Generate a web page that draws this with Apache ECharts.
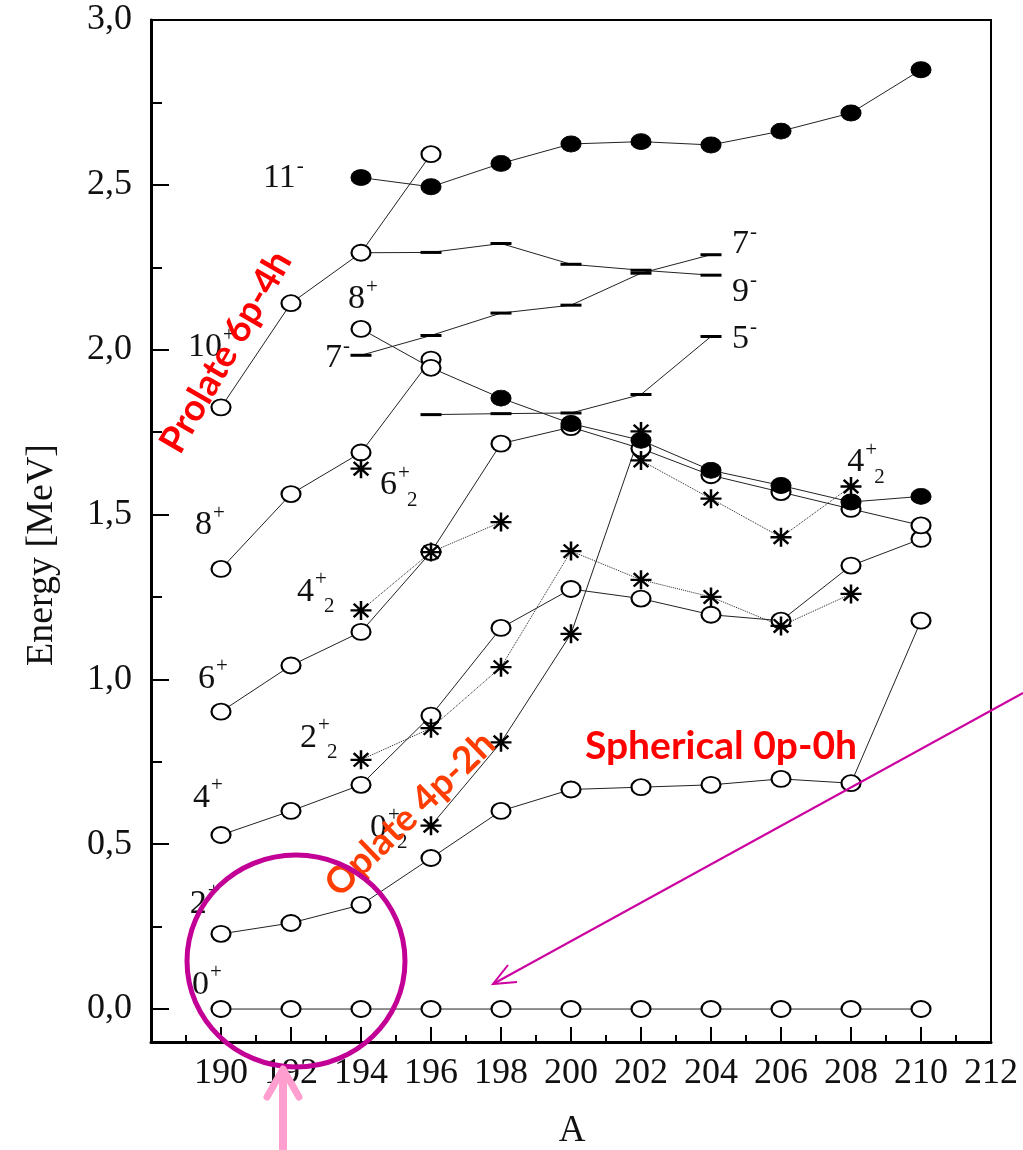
<!DOCTYPE html>
<html>
<head>
<meta charset="utf-8">
<script src="https://cdn.jsdelivr.net/npm/echarts@6/dist/echarts.min.js"></script>
<style>html,body{margin:0;padding:0;background:#fff}#c{width:1023px;height:1150px}</style>
</head>
<body>
<div id="c"></div>
<script>
// ---------- data (mass number A, energy in MeV) ----------
const A_all = [190,192,194,196,198,200,202,204,206,208,210];
const E_0p  = [0,0,0,0,0,0,0,0,0,0,0];
const E_2p  = [0.228,0.261,0.316,0.458,0.601,0.666,0.673,0.680,0.698,0.685,1.178];
const E_4p  = [0.528,0.601,0.680,0.890,1.156,1.274,1.245,1.196,1.178,1.345,1.426];
const E_6p  = [0.902,1.042,1.144,1.386,1.715,1.765,1.700,1.619,1.568,1.517,1.467];

const A_8p  = [190,192,194,196];
const E_8p  = [1.335,1.562,1.688,1.970];
const A_10p = [190,192,194,196];
const E_10p = [1.825,2.141,2.294,2.593];

const A_8b  = [194,196,198,200,202,204,206,208,210];
const E_8b  = [2.063,1.945,1.853,1.776,1.725,1.634,1.588,1.538,1.555];
const A_11m = [194,196,198,200,202,204,206,208,210];
const E_11m = [2.522,2.494,2.565,2.624,2.631,2.621,2.663,2.718,2.849];

const A_9m  = [194,196,198,200,202,204];
const E_9m  = [2.294,2.295,2.322,2.259,2.241,2.226];
const A_7m  = [194,196,198,200,202,204];
const E_7m  = [1.983,2.043,2.111,2.135,2.232,2.288];
const A_5m  = [196,198,200,202,204];
const E_5m  = [1.803,1.806,1.808,1.864,2.040];

const A_0p2 = [196,198,200,202];
const E_0p2 = [0.556,0.809,1.138,1.752];
const A_2p2 = [194,196,198,200,202,204,206,208];
const E_2p2 = [0.756,0.852,1.037,1.389,1.302,1.250,1.162,1.259];
const A_4p2 = [194,196,198];
const E_4p2 = [1.209,1.386,1.477];
const A_4p2b = [202,204,206,208];
const E_4p2b = [1.664,1.548,1.431,1.585];
const A_6p2 = [194];
const E_6p2 = [1.639];

const xRange = [188, 212];
const yRange = [-0.1, 3.0];
const yMajor = [0, 0.5, 1.0, 1.5, 2.0, 2.5, 3.0];
const yMinor = [0.25, 0.75, 1.25, 1.75, 2.25, 2.75];

// ---------- styles ----------
const SYM = {
  open:   {symbol:'circle', symbolSize:[19,16], itemStyle:{color:'#fff', borderColor:'#000', borderWidth:2}},
  filled: {symbol:'circle', symbolSize:[20,16], itemStyle:{color:'#000', borderColor:'#000', borderWidth:1}},
  star:   {symbol:'path://M10 0 L10 20 M0 10 L20 10 M3 3 L17 17 M3 17 L17 3', symbolSize:[21,19],
           itemStyle:{color:'transparent', borderColor:'#000', borderWidth:2.4}},
  dash:   {symbol:'rect', symbolSize:[21,3], itemStyle:{color:'#000', borderWidth:0}},
  none:   {symbol:'none'}
};

function mkSeries(xs, ys, sym, lineType, noLine, overrides) {
  const s = SYM[sym];
  const data = xs.map((x,i) => {
    const d = {value:[x, ys[i]]};
    if (overrides && overrides[i]) Object.assign(d, SYM[overrides[i]]);
    return d;
  });
  return {
    type:'line', data, symbol:s.symbol, symbolSize:s.symbolSize,
    itemStyle:s.itemStyle, showSymbol:true, silent:true, animation:false,
    lineStyle: noLine ? {width:0, opacity:0} : {color:'#222', width:1, type: lineType || 'solid'},
    emphasis:{disabled:true}, z:2
  };
}

const series = [
  mkSeries(A_all, E_0p, 'open'),
  mkSeries(A_all, E_2p, 'open'),
  mkSeries(A_all, E_4p, 'open'),
  mkSeries(A_all, E_6p, 'open'),
  mkSeries(A_8p, E_8p, 'open'),
  mkSeries(A_10p, E_10p, 'open'),
  mkSeries(A_2p2, E_2p2, 'star', 'dotted'),
  mkSeries(A_0p2, E_0p2, 'star', 'solid'),
  mkSeries(A_4p2, E_4p2, 'star', 'dotted'),
  mkSeries(A_6p2, E_6p2, 'star', 'solid', true),
  mkSeries(A_4p2b, E_4p2b, 'star', 'dotted'),
  mkSeries(A_5m, E_5m, 'dash'),
  mkSeries(A_7m, E_7m, 'dash'),
  mkSeries(A_9m, E_9m, 'dash', 'solid', false, {0:'none'}),
  mkSeries(A_8b, E_8b, 'filled', 'solid', false, {0:'open', 1:'open'}),
  mkSeries(A_11m, E_11m, 'filled')
];

const serif = '"Liberation Serif", "Times New Roman", serif';

const option = {
  animation:false,
  backgroundColor:'#fff',
  grid:{left:151, right:32, top:20, bottom:108, show:true, borderColor:'#000', borderWidth:2, backgroundColor:'transparent'},
  xAxis:{
    type:'value', min:xRange[0], max:xRange[1], interval:2,
    axisLine:{show:true, onZero:false, lineStyle:{color:'#000', width:3}},
    axisTick:{show:true, inside:true, length:15, lineStyle:{color:'#000', width:2}},
    minorTick:{show:true, splitNumber:2, length:7, lineStyle:{color:'#000', width:2}},
    axisLabel:{formatter:v => v === xRange[0] ? '' : String(v), fontFamily:serif, fontSize:36, color:'#111', margin:14},
    splitLine:{show:false}, minorSplitLine:{show:false}
  },
  yAxis:[{
    type:'value', min:yRange[0], max:yRange[1],
    axisLine:{show:true, onZero:false, lineStyle:{color:'#000', width:3}},
    axisTick:{show:true, inside:true, length:18, customValues:yMajor, lineStyle:{color:'#000', width:2}},
    axisLabel:{customValues:yMajor, formatter:v => v.toFixed(1).replace('.', ','), fontFamily:serif, fontSize:36, color:'#111', margin:19},
    splitLine:{show:false}
  },{
    type:'value', min:yRange[0], max:yRange[1], position:'left',
    axisLine:{show:false},
    axisTick:{show:true, inside:true, length:11, customValues:yMinor, lineStyle:{color:'#000', width:2}},
    axisLabel:{show:false, customValues:yMinor},
    splitLine:{show:false}
  }],
  series
};

const chart = echarts.init(document.getElementById('c'), null, {renderer:'canvas', width:1023, height:1150});
chart.setOption(option);

// ---------- annotations ----------
const stateLabels = [
  {main:'11', sup:'-', sub:'', at:[191.2, 2.520]},
  {main:'10', sup:'+', sub:'', at:[189.06, 2.007]},
  {main:'8',  sup:'+', sub:'', at:[193.63, 2.153]},
  {main:'7',  sup:'-', sub:'', at:[192.97, 1.974]},
  {main:'8',  sup:'+', sub:'', at:[189.26, 1.467]},
  {main:'6',  sup:'+', sub:'2', at:[194.54, 1.588]},
  {main:'4',  sup:'+', sub:'2', at:[192.17, 1.266]},
  {main:'6',  sup:'+', sub:'', at:[189.34, 1.002]},
  {main:'2',  sup:'+', sub:'2', at:[192.26, 0.823]},
  {main:'4',  sup:'+', sub:'', at:[189.2, 0.641]},
  {main:'0',  sup:'+', sub:'2', at:[194.26, 0.550]},
  {main:'2',  sup:'+', sub:'', at:[189.11, 0.319]},
  {main:'0',  sup:'+', sub:'', at:[189.17, 0.073]},
  {main:'7',  sup:'-', sub:'', at:[204.6, 2.320]},
  {main:'9',  sup:'-', sub:'', at:[204.6, 2.174]},
  {main:'5',  sup:'-', sub:'', at:[204.6, 2.032]},
  {main:'4',  sup:'+', sub:'2', at:[207.89, 1.658]}
];

const mainFont = '34px "Liberation Serif"';
const smallFont = '21px "Liberation Serif"';
const cv = document.createElement('canvas').getContext('2d');
cv.font = mainFont;

function txt(text, x, y, font, fill, align, z, rotation) {
  return {
    type:'text', x, y, rotation: rotation || 0, z: z || 50, silent:true,
    style:{text, font, fill, align: align || 'left', verticalAlign:'middle',
           textAlign: align || 'left', textVerticalAlign:'middle'}
  };
}

const g = [];
stateLabels.forEach(l => {
  const p = chart.convertToPixel({gridIndex:0}, l.at);
  const w = cv.measureText(l.main).width;
  g.push(txt(l.main, p[0], p[1], mainFont, '#111'));
  if (l.sup) g.push(txt(l.sup, p[0] + w + 1, p[1] - 12, smallFont, '#111'));
  if (l.sub) g.push(txt(l.sub, p[0] + w + 10, p[1] + 15, smallFont, '#111'));
});

// axis titles
g.push(txt('Energy [MeV]', 42, 555, '38px "Liberation Serif"', '#111', 'center', 50, Math.PI/2));
g.push(txt('A', 572, 1131, '37px "Liberation Serif"', '#111', 'center', 50));

// coloured overlay annotations
g.push(txt('Prolate 6p-4h', 226, 352, 'bold 37px Lato', '#ff0000', 'center', 60, 60*Math.PI/180));
g.push(txt('Oplate 4p-2h', 410, 814, 'bold 37px Lato', '#ff3d00', 'center', 60, 44*Math.PI/180));
g.push(txt('Spherical 0p-0h', 721, 746, 'bold 39px Lato', '#ff0000', 'center', 60));

g.push({type:'ellipse', z:70, silent:true, shape:{cx:296, cy:961, rx:109, ry:106},
        style:{fill:'transparent', stroke:'#c20096', lineWidth:5}});
g.push({type:'polyline', z:70, silent:true, shape:{points:[[1023,693],[493,984]]},
        style:{fill:null, stroke:'#cc00a0', lineWidth:2}});
g.push({type:'polyline', z:70, silent:true, shape:{points:[[508,965],[493,984],[517,982]]},
        style:{fill:null, stroke:'#cc00a0', lineWidth:2}});
g.push({type:'polyline', z:70, silent:true, shape:{points:[[283,1150],[283,1070]]},
        style:{fill:null, stroke:'#ff9ecf', lineWidth:8}});
g.push({type:'polyline', z:70, silent:true, shape:{points:[[267,1097],[283,1069],[299,1097]]},
        style:{fill:null, stroke:'#ff9ecf', lineWidth:7, lineCap:'round', lineJoin:'round'}});

chart.setOption({graphic:{elements:g}});
</script>
</body>
</html>
